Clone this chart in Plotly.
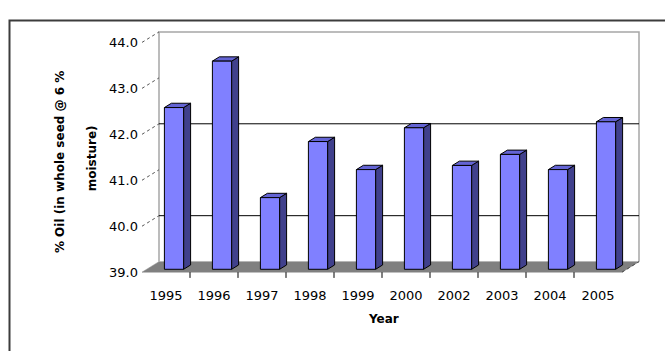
import plotly.graph_objects as go

# ---- data ----
years = ["1995", "1996", "1997", "1998", "1999", "2000", "2002", "2003", "2004", "2005"]
oil_pct = [42.52, 43.53, 40.56, 41.78, 41.17, 42.08, 41.26, 41.50, 41.17, 42.21]
y_ticks = [39, 40, 41, 42, 43, 44]
grid_vals = [40, 42]
y_min, y_max = 39.0, 44.0

# ---- geometry of the pseudo-3D frame (pixels) ----
W, H = 665, 351
PX = 48.0                     # pixels per category and per percent unit
ORIGIN_X, ORIGIN_Y = 166, 277  # front plane: category 0 centre / value 39
WALL_D = (17, 11)             # back wall offset (right, up)
BAR_D = (8, 3)                # bar front face offset (right, up)
BAR_DEPTH = (7, 4.5)          # bar depth (right, up)
BAR_W = 0.40                  # bar width in category units

FRONT = "#8080ff"
TOP = "#6464d4"
SIDE = "#40408c"
FLOOR = "#808080"
WALL_EDGE = "#a6a6a6"

n = len(years)
xa = [-0.5, n - 0.5]
wdx, wdy = WALL_D[0] / PX, WALL_D[1] / PX
bdx, bdy = BAR_D[0] / PX, BAR_D[1] / PX
ddx, ddy = BAR_DEPTH[0] / PX, BAR_DEPTH[1] / PX

fig = go.Figure()


def poly(xs, ys, fill, line_color="black", width=1):
    fig.add_trace(go.Scatter(
        x=xs + [xs[0]], y=ys + [ys[0]], mode="lines", fill="toself",
        fillcolor=fill, line=dict(color=line_color, width=width),
        hoverinfo="skip", showlegend=False, xaxis="x", yaxis="y"))


def seg(xs, ys, color, width=1, dash="solid"):
    fig.add_trace(go.Scatter(
        x=xs, y=ys, mode="lines", line=dict(color=color, width=width, dash=dash),
        hoverinfo="skip", showlegend=False, xaxis="x", yaxis="y"))


# floor
poly([xa[0], xa[1], xa[1] + wdx, xa[0] + wdx],
     [y_min, y_min, y_min + wdy, y_min + wdy], FLOOR, line_color=FLOOR, width=0.5)

# back wall edges
seg([xa[0] + wdx, xa[0] + wdx, xa[1] + wdx, xa[1] + wdx],
    [y_min + wdy, y_max + wdy, y_max + wdy, y_min + wdy], WALL_EDGE, width=1.5)

# back wall gridlines
for g in grid_vals:
    seg([xa[0] + wdx, xa[1] + wdx], [g + wdy, g + wdy], "black", width=1)

# leaders from the value axis to the back wall
for t in y_ticks[1:]:
    seg([xa[0], xa[0] + wdx], [t, t + wdy], "#555555", width=1, dash="dot")

# dotted right edge of the floor
seg([xa[1], xa[1] + wdx], [y_min, y_min + wdy], "#444444", width=1, dash="dot")

# category tick marks below the floor
for i in range(n - 1):
    seg([i + 0.5, i + 0.5], [y_min, y_min - 6 / PX], "black", width=1)

# bars: side, top, front
for i, v in enumerate(oil_pct):
    x0 = i + bdx - BAR_W / 2
    x1 = x0 + BAR_W
    yb = y_min + bdy
    yt = v + bdy
    poly([x1, x1 + ddx, x1 + ddx, x1], [yb, yb + ddy, yt + ddy, yt], SIDE)
    poly([x0, x1, x1 + ddx, x0 + ddx], [yt, yt, yt + ddy, yt + ddy], TOP)
    poly([x0, x1, x1, x0], [yb, yb, yt, yt], FRONT)

# invisible trace that carries the labelled axes
fig.add_trace(go.Scatter(x=[0], y=[y_min], mode="markers", marker=dict(opacity=0),
                         hoverinfo="skip", showlegend=False, xaxis="x2", yaxis="y2"))

tick_font = dict(family="DejaVu Sans", size=13, color="black")
title_font = dict(family="DejaVu Sans", size=12, color="black")

fig.update_layout(
    width=W, height=H, autosize=False,
    margin=dict(l=0, r=0, t=0, b=0),
    paper_bgcolor="white", plot_bgcolor="rgba(0,0,0,0)",
    xaxis=dict(range=[-ORIGIN_X / PX, (W - ORIGIN_X) / PX], domain=[0, 1],
               visible=False, fixedrange=True),
    yaxis=dict(range=[y_min - (H - ORIGIN_Y) / PX, y_min + ORIGIN_Y / PX], domain=[0, 1],
               visible=False, fixedrange=True),
    xaxis2=dict(range=xa, tickvals=list(range(n)), ticktext=years,
                domain=[(ORIGIN_X - PX / 2) / W, (ORIGIN_X + (n - 0.5) * PX) / W],
                anchor="y2", showgrid=False, zeroline=False, showline=False,
                ticks="", ticklabelstandoff=14, tickfont=tick_font, fixedrange=True),
    yaxis2=dict(range=[y_min, y_max], tickvals=y_ticks, tickformat=".1f",
                domain=[1 - ORIGIN_Y / H, 1 - (ORIGIN_Y - (y_max - y_min) * PX) / H],
                anchor="x2", showgrid=False, zeroline=False, showline=False,
                ticks="", ticklabelstandoff=3, tickfont=tick_font, fixedrange=True),
    shapes=[dict(type="rect", xref="paper", yref="paper",
                 x0=9.5 / W, x1=1.05, y0=-0.05, y1=1 - 14 / H,
                 line=dict(color="#3c3c3c", width=2), fillcolor="rgba(0,0,0,0)")],
    annotations=[
        dict(text="<b>% Oil (in whole seed @ 6 %</b>", x=60 / W, y=1 - 162 / H,
             xref="paper", yref="paper", xanchor="center", yanchor="middle",
             textangle=-90, showarrow=False, font=title_font),
        dict(text="<b>moisture)</b>", x=92 / W, y=1 - 158 / H,
             xref="paper", yref="paper", xanchor="center", yanchor="middle",
             textangle=-90, showarrow=False, font=title_font),
        dict(text="<b>Year</b>", x=383 / W, y=1 - 326 / H,
             xref="paper", yref="paper", xanchor="center", yanchor="middle",
             showarrow=False, font=title_font),
    ],
)

fig.write_html("out.html")
